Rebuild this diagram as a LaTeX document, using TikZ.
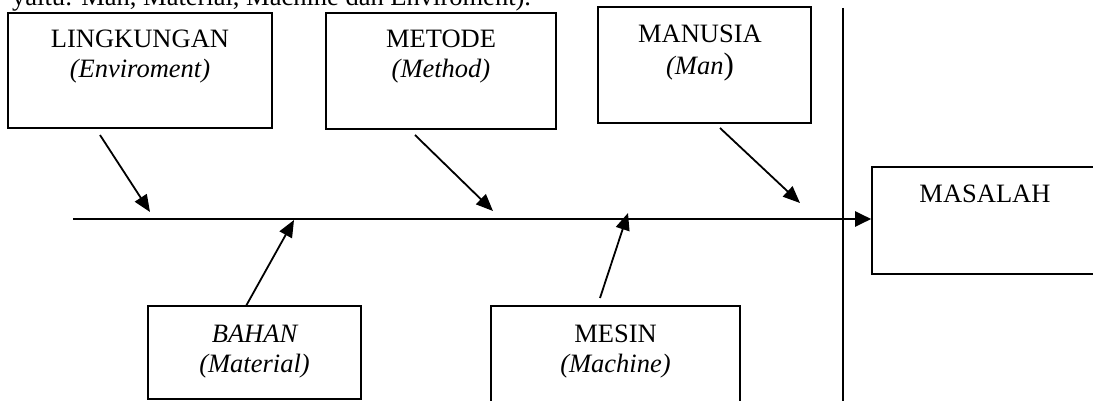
\documentclass[tikz,border=0pt]{standalone}
\usepackage{fontspec}
\setmainfont{Liberation Serif}
\usetikzlibrary{arrows.meta}
\begin{document}
\begin{tikzpicture}[x=1pt,y=-1pt,
  box/.style={draw, line width=1.6pt, inner sep=0pt},
  txt/.style={inner sep=0pt, anchor=base, font=\fontsize{26.5}{32}\selectfont},
  arr/.style={line width=1.8pt, -{Triangle[length=17pt,width=14pt]}},
  spine/.style={line width=2pt, -{Triangle[length=16pt,width=15pt]}},
  divider/.style={line width=1.6pt}]
\useasboundingbox (0,0) rectangle (1093,401);

% intro line (cut at the top)
\node[txt, anchor=base west] (intro) at (12,6) {yaitu: Man, Material, Machine dan Enviroment).};

% boxes
\node[box, minimum width=264pt, minimum height=115pt] (ling) at (140,70.5) {};
\node[box, minimum width=230pt, minimum height=116pt] (meto) at (441,71) {};
\node[box, minimum width=213pt, minimum height=116pt] (manu) at (704.5,65) {};
\node[box, minimum width=226pt, minimum height=107pt] (mas) at (985,220.5) {};
\node[box, minimum width=213pt, minimum height=93pt] (bahan) at (254.5,352.5) {};
\node[box, minimum width=249pt, minimum height=104pt] (mesin) at (615.5,358) {};

% texts
\node[txt] (lingA) at (140,48) {LINGKUNGAN};
\node[txt] (lingB) at (140,78) {\itshape (Enviroment)};
\node[txt] (metoA) at (441,48) {METODE};
\node[txt] (metoB) at (441,78) {\itshape (Method)};
\node[txt] (manuA) at (700,43) {MANUSIA};
\node[txt] (manuB) at (700,75) {\textit{(Man}{\fontsize{31}{32}\selectfont)}};
\node[txt] (masA) at (985,203) {MASALAH};
\node[txt] (bahanA) at (254.5,342) {\itshape BAHAN};
\node[txt] (bahanB) at (254.5,372) {\itshape (Material)};
\node[txt] (mesinA) at (615.5,342) {MESIN};
\node[txt] (mesinB) at (615.5,372) {\itshape (Machine)};

% divider line
\coordinate (vt) at (843,8);
\coordinate (vb) at (843,405);
\draw[divider] (vt) -- (vb);

% spine
\coordinate (spl) at (73,219);
\draw[spine] (spl) -- (spl -| mas.west);

% cause arrows
\coordinate (lingS) at (100,135);  \coordinate (lingE) at (150,212);
\coordinate (metoS) at (415,135);  \coordinate (metoE) at (493,211);
\coordinate (manuS) at (720,128);  \coordinate (manuE) at (800,203);
\coordinate (bahanS) at (246,306); \coordinate (bahanE) at (294,220);
\coordinate (mesinS) at (600,298); \coordinate (mesinE) at (628,213);
\draw[arr] (lingS) -- (lingE);
\draw[arr] (metoS) -- (metoE);
\draw[arr] (manuS) -- (manuE);
\draw[arr] (bahanS) -- (bahanE);
\draw[arr] (mesinS) -- (mesinE);
\end{tikzpicture}
\end{document}
